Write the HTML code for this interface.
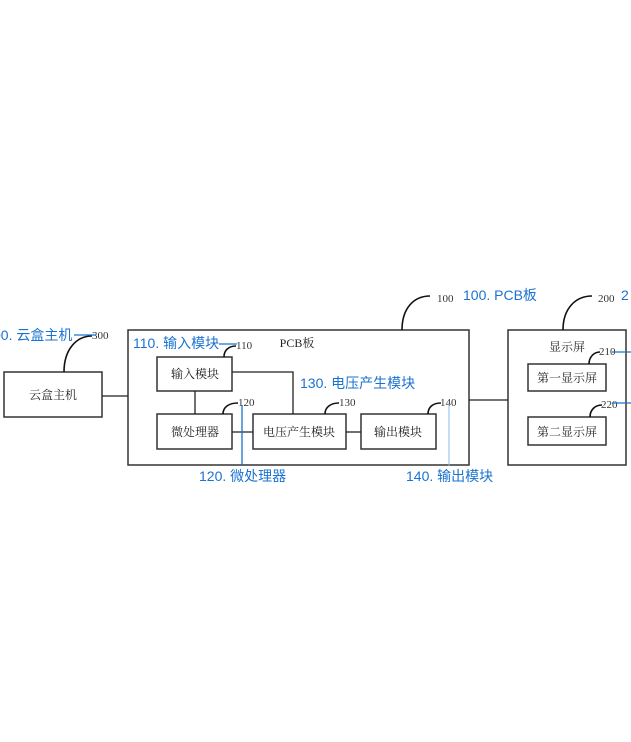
<!DOCTYPE html>
<html><head><meta charset="utf-8"><style>
html,body{margin:0;padding:0;background:#fff;}
svg{display:block}
.b{fill:#fff;stroke:#333;stroke-width:1.5}
.l{stroke:#222;stroke-width:1.3;fill:none}
.c{stroke:#111;stroke-width:1.6;fill:none}
.t{font-family:"Liberation Serif","Noto Serif CJK SC",serif;font-size:12px;fill:#222}
.n{font-family:"Liberation Serif",serif;font-size:11px;fill:#333}
.bl{font-family:"Liberation Sans","Noto Sans CJK SC",sans-serif;font-size:14px;fill:#1a73d0}
.bline{stroke:#1a73d0;stroke-width:1.3}
</style></head><body>
<svg width="631" height="742" viewBox="0 0 631 742" xmlns="http://www.w3.org/2000/svg">
<rect class="b" x="4" y="372" width="98" height="45"/>
<rect class="b" x="128" y="330" width="341" height="135"/>
<rect class="b" x="157" y="357" width="75" height="34"/>
<rect class="b" x="157" y="414" width="75" height="35"/>
<rect class="b" x="253" y="414" width="93" height="35"/>
<rect class="b" x="361" y="414" width="75" height="35"/>
<rect class="b" x="508" y="330" width="118" height="135"/>
<rect class="b" x="528" y="364" width="78" height="27"/>
<rect class="b" x="528" y="417" width="78" height="28"/>
<line class="l" x1="102" y1="396" x2="128" y2="396"/>
<polyline class="l" points="232,372 293,372 293,414"/>
<line class="l" x1="195" y1="391" x2="195" y2="414"/>
<line class="l" x1="232" y1="432" x2="253" y2="432"/>
<line class="l" x1="346" y1="432" x2="361" y2="432"/>
<line class="l" x1="469" y1="400" x2="508" y2="400"/>
<text class="t" x="53" y="399" text-anchor="middle">云盒主机</text>
<text class="t" x="297" y="347" text-anchor="middle">PCB板</text>
<text class="t" x="195" y="378" text-anchor="middle">输入模块</text>
<text class="t" x="195" y="436" text-anchor="middle">微处理器</text>
<text class="t" x="299" y="436" text-anchor="middle">电压产生模块</text>
<text class="t" x="398" y="436" text-anchor="middle">输出模块</text>
<text class="t" x="567" y="351" text-anchor="middle">显示屏</text>
<text class="t" x="567" y="382" text-anchor="middle">第一显示屏</text>
<text class="t" x="567" y="436" text-anchor="middle">第二显示屏</text>
<path class="c" d="M64,372 C64,350 76,336 92,336"/>
<path class="c" d="M402,330 C402,308 414,296 430,296"/>
<path class="c" d="M563,330 C563,308 576,296 592,296"/>
<path class="c" d="M224,357 C224,350 229,346 236,346"/>
<path class="c" d="M223,414 C223,407 229,403 238,403"/>
<path class="c" d="M325,414 C325,407 331,403 339,403"/>
<path class="c" d="M428,414 C428,407 433,403 441,403"/>
<path class="c" d="M589,364 C589,357 594,352 600,352"/>
<path class="c" d="M590,417 C590,410 595,405 602,405"/>
<text class="n" x="92" y="339">300</text>
<text class="n" x="437" y="302">100</text>
<text class="n" x="598" y="302">200</text>
<text class="n" x="236" y="349">110</text>
<text class="n" x="238" y="406">120</text>
<text class="n" x="339" y="406">130</text>
<text class="n" x="440" y="406">140</text>
<text class="n" x="599" y="355">210</text>
<text class="n" x="601" y="408">220</text>
<line class="bline" x1="74" y1="335" x2="96" y2="335"/>
<line class="bline" x1="219" y1="344" x2="237" y2="344"/>
<line class="bline" x1="242" y1="405" x2="242" y2="466"/>
<line stroke="#8ab8e8" stroke-width="1" x1="449" y1="404" x2="449" y2="466"/>
<line class="bline" x1="612" y1="352" x2="631" y2="352"/>
<line class="bline" x1="612" y1="403" x2="631" y2="403"/>
<text class="bl" x="-7" y="340">00. 云盒主机</text>
<text class="bl" x="133" y="348">110. 输入模块</text>
<text class="bl" x="300" y="388">130. 电压产生模块</text>
<text class="bl" x="463" y="300">100. PCB板</text>
<text class="bl" x="621" y="300">2</text>
<text class="bl" x="199" y="481">120. 微处理器</text>
<text class="bl" x="406" y="481">140. 输出模块</text>
</svg>
</body></html>
